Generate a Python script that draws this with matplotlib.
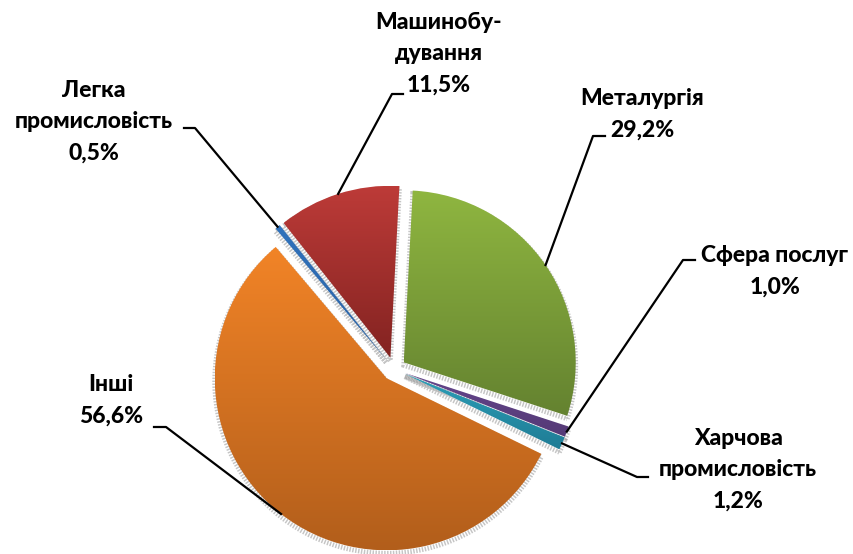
import math
import numpy as np
import matplotlib
matplotlib.use('Agg')
from matplotlib import pyplot as plt
from matplotlib.patches import Wedge
from matplotlib.colors import LinearSegmentedColormap

plt.rcParams['font.family'] = ['Lato', 'Open Sans', 'DejaVu Sans']

names = ['Металургія', 'Сфера послуг', 'Харчова\nпромисловість', 'Інші',
         'Легка\nпромисловість', 'Машинобу-\nдування']
shares = [29.2, 1.0, 1.2, 56.6, 0.5, 11.5]
share_labels = ['29,2%', '1,0%', '1,2%', '56,6%', '0,5%', '11,5%']

top_colors = ['#8fb640', '#65458c', '#2ca0b9', '#f28427', '#3072bc', '#bd3b38']
bottom_colors = ['#648230', '#553a76', '#1f7c95', '#b25e1b', '#2b62a3', '#832321']

# text centre and the two leader points, in pixels from top left
label_pos = [(642, 114), (775, 271), (738, 470), (111, 400), (94, 122), (439, 54)]
knees = [[(605, 136), (593, 136)], [(695, 260), (683, 260)], [(648, 477), (637, 477)],
         [(154, 427), (166, 427)], [(184, 128), (195, 128)], [(403, 94), (392, 94)]]

W, H = 854, 554


def up(p):
    return p[0], H - p[1]


fig = plt.figure(figsize=(W / 100, H / 100), dpi=100)
ax = fig.add_axes([0, 0, 1, 1])
wedges, _ = ax.pie(shares, explode=[11.8] * 6, center=(394, H - 369), radius=172,
                   startangle=87, counterclock=False, frame=False)

for w in wedges:
    w.set_facecolor('none')
    w.set_edgecolor('none')
    # grainy shadow round the slice
    ax.add_patch(Wedge((w.center[0], w.center[1] - 3), w.r, w.theta1, w.theta2,
                       fc='none', ec='#8c8c8c', lw=3.5, ls=(0, (0.3, 0.3)), alpha=0.5,
                       zorder=1))
for w, c1, c2 in zip(wedges, top_colors, bottom_colors):
    box = w.get_path().transformed(w.get_patch_transform()).get_extents()
    cmap = LinearSegmentedColormap.from_list('shade', [c1, c2])
    im = ax.imshow(np.linspace(0, 1, 256).reshape(-1, 1), cmap=cmap, aspect='auto',
                   origin='upper', extent=(box.x0, box.x1, box.y0, box.y1), zorder=2)
    im.set_clip_path(w)

for w, name, lab, pos, knee in zip(wedges, names, share_labels, label_pos, knees):
    mid = math.radians((w.theta1 + w.theta2) / 2)
    end = (w.center[0] + w.r * math.cos(mid), w.center[1] + w.r * math.sin(mid))
    pts = [up(knee[0]), up(knee[1]), end]
    ax.plot([p[0] for p in pts], [p[1] for p in pts], color='black', lw=1.6, zorder=3)
    x, y = up(pos)
    ax.text(x, y, name + '\n' + lab, ha='center', va='center', fontsize=16.5,
            fontweight='black', linespacing=1.62, color='black', zorder=4)

ax.set_xlim(0, W)
ax.set_ylim(0, H)
ax.set_aspect('equal')
ax.axis('off')
fig.savefig('out.png', dpi=100)
